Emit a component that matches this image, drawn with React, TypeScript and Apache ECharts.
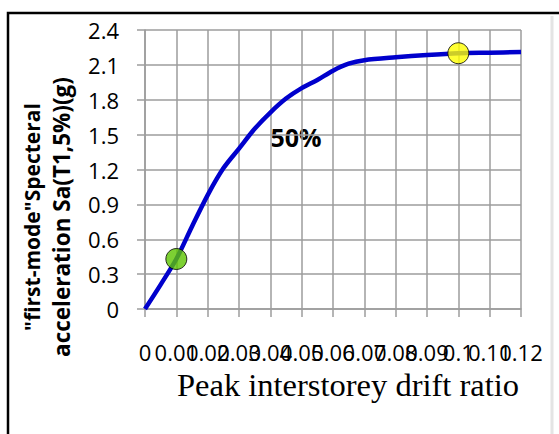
import React, { useEffect, useRef } from "react";
import * as echarts from "echarts";

// Peak interstorey drift vs first-mode spectral acceleration (50% curve)
const driftRatio = [0, 0.005, 0.01, 0.015, 0.02, 0.025, 0.03, 0.035, 0.04, 0.045, 0.05, 0.055, 0.06, 0.065, 0.07, 0.08, 0.09, 0.1, 0.11, 0.12];
const spectralAcc = [0, 0.21, 0.43, 0.71, 0.98, 1.21, 1.38, 1.55, 1.69, 1.81, 1.9, 1.97, 2.05, 2.11, 2.14, 2.165, 2.185, 2.2, 2.205, 2.21];

// Highlighted states on the curve
const markerDrift = [0.01, 0.1];
const markerSa = [0.43, 2.2];
const markerColors = ["#5cc400", "#ffff00"];

const xTicks = { min: 0, max: 0.12, step: 0.01 };
const yTicks = { min: 0, max: 2.4, step: 0.3 };

const yTitleLines = ['"first-mode"Specteral', "acceleration Sa(T1,5%)(g)"];
const xTitle = "Peak interstorey drift ratio";
const curveLabel = "50%";

const gridColor = "#9c9c9c";

const fmtDrift = (v: number) => (v === 0 ? "0" : String(parseFloat(v.toFixed(2))));
const isLastTick = (v: number) => Math.abs(v - xTicks.max) < 1e-9;

export default function App() {
  const ref = useRef<HTMLDivElement>(null);

  useEffect(() => {
    if (!ref.current) return;
    const chart = echarts.init(ref.current, null, { renderer: "svg" });

    const curve = driftRatio.map((d, i) => [d, spectralAcc[i]]);
    const markers = markerDrift.map((d, i) => ({
      value: [d, markerSa[i]],
      itemStyle: { color: markerColors[i], borderColor: "#000", borderWidth: 1 },
    }));

    const xLabelBase = {
      margin: 32,
      fontFamily: "Open Sans",
      fontSize: 22,
      color: "#000",
      hideOverlap: false,
      showMinLabel: true,
      showMaxLabel: true,
    };

    const yTitleStyle = {
      fontFamily: "Open Sans",
      fontWeight: "bold",
      fill: "#000",
      align: "center",
      verticalAlign: "middle",
    };

    chart.setOption({
      animation: false,
      backgroundColor: "#ffffff",
      grid: { left: 145, top: 30, width: 376, height: 279, containLabel: false },
      xAxis: [
        {
          // main drift axis: grid, ticks and labels up to 0.11
          type: "value",
          position: "bottom",
          min: xTicks.min,
          max: xTicks.max,
          interval: xTicks.step,
          axisLine: { show: true, onZero: false, lineStyle: { color: gridColor, width: 1.5 } },
          axisTick: { show: true, inside: false, length: 8, lineStyle: { color: gridColor, width: 1.5 } },
          splitLine: { show: true, lineStyle: { color: gridColor, width: 1.5 } },
          axisLabel: {
            ...xLabelBase,
            formatter: (v: number) => (isLastTick(v) ? "" : fmtDrift(v)),
          },
        },
        {
          // companion axis carrying the 0.12 end label
          type: "value",
          position: "bottom",
          min: xTicks.min,
          max: xTicks.max,
          interval: xTicks.step,
          axisLine: { show: false },
          axisTick: { show: false },
          splitLine: { show: false },
          axisLabel: {
            ...xLabelBase,
            formatter: (v: number) => (isLastTick(v) ? fmtDrift(v) : ""),
          },
        },
      ],
      yAxis: {
        type: "value",
        min: yTicks.min,
        max: yTicks.max,
        interval: yTicks.step,
        axisLine: { show: true, lineStyle: { color: gridColor, width: 1.5 } },
        axisTick: { show: true, inside: false, length: 8, lineStyle: { color: gridColor, width: 1.5 } },
        splitLine: { show: true, lineStyle: { color: gridColor, width: 1.5 } },
        axisLabel: {
          margin: 26,
          fontFamily: "Open Sans",
          fontSize: 22,
          color: "#000",
          showMinLabel: true,
          showMaxLabel: true,
          formatter: (v: number) => (v === 0 ? "0" : String(parseFloat(v.toFixed(1)))),
        },
      },
      series: [
        {
          type: "line",
          xAxisIndex: 0,
          data: curve,
          smooth: 0.3,
          showSymbol: false,
          lineStyle: { color: "#0000cc", width: 4.5 },
          z: 2,
        },
        {
          type: "scatter",
          xAxisIndex: 0,
          data: markers,
          symbol: "circle",
          symbolSize: 21,
          z: 3,
        },
      ],
      graphic: [
        // chart-area frame
        {
          type: "rect",
          shape: { x: 8, y: 13, width: 600, height: 500 },
          style: { fill: "none", stroke: "#000", lineWidth: 2.5 },
          silent: true,
        },
        {
          type: "line",
          shape: { x1: 552, y1: 16, x2: 552, y2: 434 },
          style: { stroke: "#e4e4e4", lineWidth: 3 },
          silent: true,
        },
        {
          type: "text",
          x: 32,
          y: 217,
          rotation: Math.PI / 2,
          style: { text: yTitleLines[0], fontSize: 21, ...yTitleStyle },
        },
        {
          type: "text",
          x: 61,
          y: 217,
          rotation: Math.PI / 2,
          style: { text: yTitleLines[1], fontSize: 22.5, ...yTitleStyle },
        },
        {
          type: "text",
          x: 348,
          y: 385,
          style: {
            text: xTitle,
            fontFamily: "Liberation Serif",
            fontSize: 32.5,
            fill: "#000",
            align: "center",
            verticalAlign: "middle",
          },
        },
        {
          type: "text",
          x: 296,
          y: 137,
          style: {
            text: curveLabel,
            fontFamily: "Open Sans",
            fontWeight: "bold",
            fontSize: 25,
            fill: "#000",
            align: "center",
            verticalAlign: "middle",
          },
        },
      ],
    });

    return () => chart.dispose();
  }, []);

  return <div ref={ref} style={{ width: 559, height: 434, position: "absolute", left: 0, top: 0 }} />;
}
